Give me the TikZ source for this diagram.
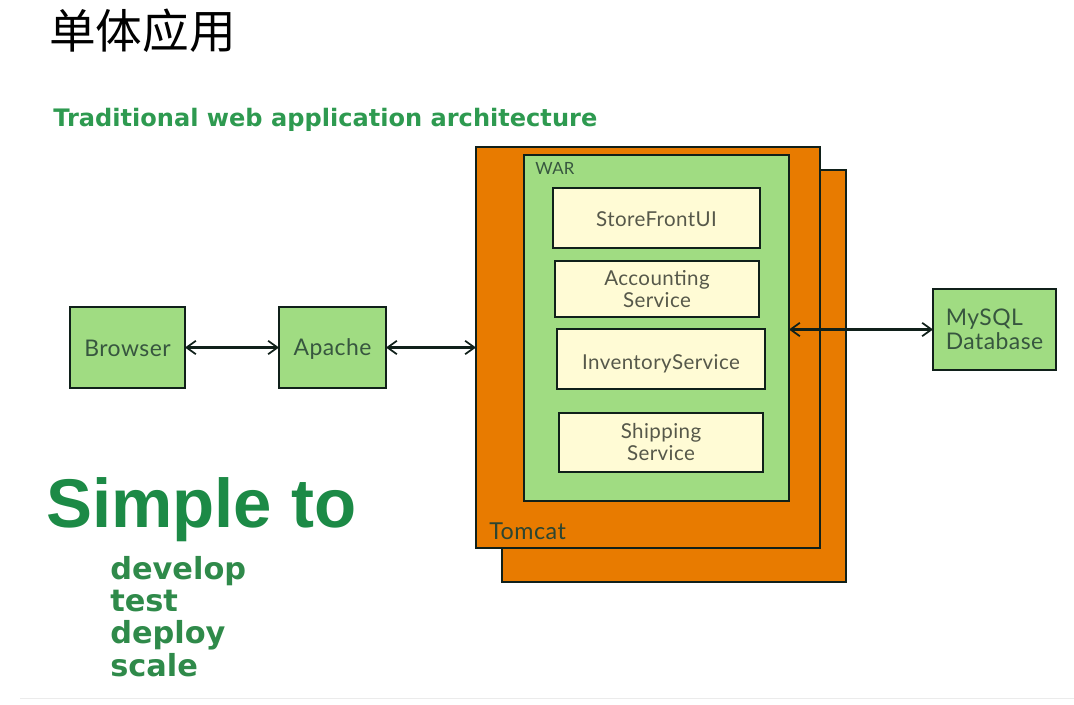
\documentclass[tikz,border=0pt]{standalone}
\usepackage{xcolor}
\usepackage{fontspec}
\setmainfont[LetterSpace=2]{Lato}
\newfontfamily\cjkfont{Noto Sans CJK SC}
\newfontfamily\headfont{Liberation Sans}
\newfontfamily\listfont{DejaVu Sans}
\usetikzlibrary{arrows.meta}
\definecolor{tomcatorange}{HTML}{E87B00}
\definecolor{boxgreen}{HTML}{A0DC82}
\definecolor{svccream}{HTML}{FFFBD5}
\definecolor{boxtext}{HTML}{37563F}
\definecolor{svctext}{HTML}{56584A}
\definecolor{headgreen}{HTML}{2E9A50}
\definecolor{simplegreen}{HTML}{1C8A46}
\definecolor{listgreen}{HTML}{2F8A4A}
\definecolor{edge}{HTML}{10201A}

\begin{document}
\begin{tikzpicture}[
  x=0.75pt, y=-0.75pt,
  >={Straight Barb[length=7pt,width=10pt,line width=1.3pt]},
  outline/.style={draw=edge, line width=2.1pt, inner sep=0pt, outer sep=0pt, align=center},
  tier/.style={outline, fill=boxgreen, text=boxtext, font=\fontsize{17.2}{18}\selectfont},
  server/.style={outline, fill=tomcatorange},
  war/.style={outline, fill=boxgreen},
  svc/.style={outline, fill=svccream, text=svctext, font=\fontsize{15.4}{16.5}\selectfont},
  link/.style={<->, draw=edge, line width=1.6pt},
  caption/.style={inner sep=0pt, anchor=base west},
  listitem/.style={caption, font=\listfont\bfseries\fontsize{22.8}{23}\selectfont, text=listgreen}
]
\useasboundingbox (0,0) rectangle (1074,704);

% page heading
\node[caption, anchor=west, font=\cjkfont\fontsize{35}{36}\selectfont] (title) at (49,31) {单体应用};
\node[caption, font=\listfont\bfseries\fontsize{18.05}{18.5}\selectfont, text=headgreen] (subtitle) at (53,126) {Traditional web application architecture};

% tomcat stack
\node[server, minimum width=258pt, minimum height=309pt] (tomcatback) at (674,376) {};
\node[server, minimum width=258pt, minimum height=300.75pt] (tomcat) at (648,347.5) {};
\node[caption, font=\fontsize{17.5}{18}\selectfont, text=boxtext!80!black] (tomcatlabel) at (489,539) {Tomcat};
\node[war, minimum width=198.75pt, minimum height=259.5pt] (warbox) at (656.5,328) {};
\node[caption, font=\fontsize{12.6}{13}\selectfont, text=boxtext] (warlabel) at (535,174) {WAR};

% services
\node[svc, text height=13pt, minimum width=155.25pt, minimum height=45pt] (store) at (656.5,218) {StoreFrontUI};
\node[svc, minimum width=153pt, minimum height=42pt] (accounting) at (657,289) {Accounting\\Service};
\node[svc, text height=18pt, minimum width=156pt, minimum height=45pt] (inventory) at (661,359) {InventoryService};
\node[svc, minimum width=153pt, minimum height=44.25pt] (shipping) at (661,442.5) {Shipping\\Service};

% outer tiers
\node[tier, text height=14pt, minimum width=86.25pt, minimum height=60.75pt] (browser) at (127.5,347.5) {Browser};
\node[tier, text height=15pt, minimum width=80.25pt, minimum height=60.75pt] (apache) at (332.5,347.5) {Apache};
\node[tier, minimum width=92.25pt, minimum height=60.75pt, align=left] (mysql) at (994.5,329.5) {MySQL\\Database};

% connectors
\draw[link] (browser) -- (apache);
\draw[link] (apache) -- (apache -| tomcat.west);
\draw[link] (warbox.east |- mysql.west) -- (mysql.west);

% slogan
\node[caption, font=\headfont\bfseries\fontsize{51.7}{52}\selectfont, text=simplegreen] (simple) at (46,527) {Simple to};
\node[listitem] (develop) at (110,579) {develop};
\node[listitem] (test) at (110,611) {test};
\node[listitem] (deploy) at (110,643) {deploy};
\node[listitem] (scale) at (110,676) {scale};

\draw[black!8, line width=0.75pt] (20,698) -- (1074,698);
\end{tikzpicture}
\end{document}
